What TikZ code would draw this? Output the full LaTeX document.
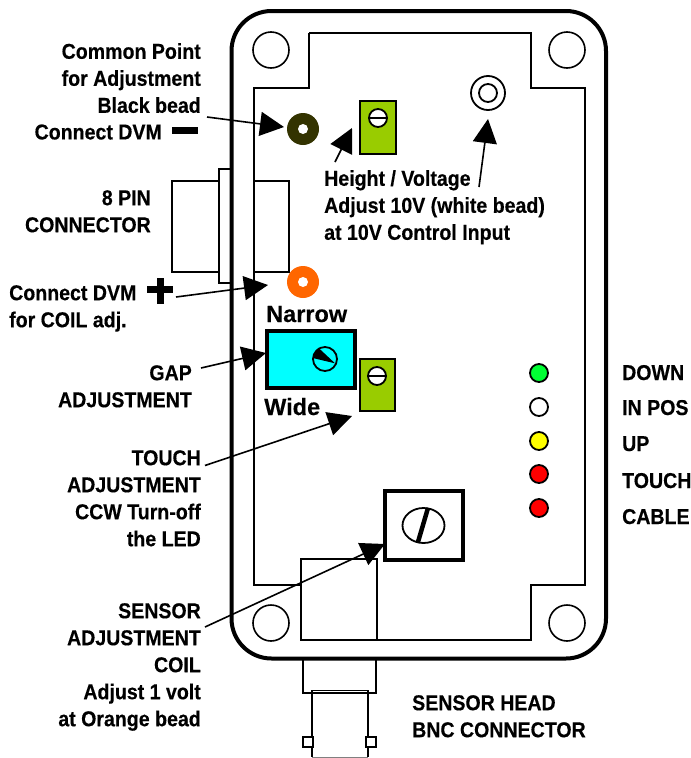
\documentclass[tikz,border=0pt]{standalone}
\usepackage{fontspec}
\setmainfont[FakeStretch=0.91,BoldFeatures={FakeBold=0.4}]{Liberation Sans}
\newfontfamily\plainfont[BoldFeatures={FakeBold=0.3}]{Liberation Sans}
\usetikzlibrary{arrows.meta}
\definecolor{trimgreen}{HTML}{99CC00}
\definecolor{beadblack}{HTML}{333300}
\definecolor{beadorange}{HTML}{FF6600}
\definecolor{ledgreen}{HTML}{00FF33}
\definecolor{gapcyan}{HTML}{00FFFF}
\definecolor{ledyellow}{HTML}{FFFF00}
\definecolor{ledred}{HTML}{FF0000}
\tikzset{
  x=1pt,y=-1pt,
  lab/.style={font=\bfseries\fontsize{21.5}{27}\selectfont,inner sep=0pt,align=#1},
  lab/.default=right,
  biglab/.style={font=\plainfont\bfseries\fontsize{23.5}{27}\selectfont,inner sep=0pt},
  thin line/.style={draw=black,line width=1.8pt},
  thick line/.style={draw=black,line width=4pt},
  big arrow/.style={draw=black,line width=1.6pt,-{Triangle[length=24pt,width=24pt,fill=black]}},
  screw/.style={circle,draw=black,line width=1.8pt,fill=white,minimum size=18pt,inner sep=0pt},
  led/.style={circle,draw=black,line width=1.8pt,minimum size=18pt,inner sep=0pt,fill=#1},
  hole/.style={circle,draw=black,line width=1.6pt,minimum size=36pt,inner sep=0pt,fill=white},
  bead/.style={circle,fill=#1,minimum size=32pt,inner sep=0pt},
  eye/.style={circle,fill=white,minimum size=10pt,inner sep=0pt},
}
\begin{document}
\begin{tikzpicture}
\useasboundingbox (0,0) rectangle (691,758);
% connectors behind the box
\draw[thin line,fill=white] (172,181) rectangle (219,272);
\draw[thin line,fill=white] (219,169) rectangle (232,283);
\draw[thin line] (303,658) rectangle (376,693);
\draw[thin line] (312,757) -- (312,690.5) -- (368,690.5) -- (368,757);
\draw[draw=gray,line width=1pt] (312,757) -- (368,757);
\draw[thin line,fill=white] (303,737) rectangle (313,747);
\draw[thin line,fill=white] (366,737) rectangle (376,747);
% case
\draw[thick line,rounded corners=40pt] (231.5,11) rectangle (606,658.5);
\draw[thin line] (309,33) -- (531,33) -- (531,88) -- (585,88) -- (585,585) -- (531,585) -- (531,640) -- (309,640)
  (301,585) -- (254,585) -- (254,88) -- (309,88) -- (309,33);
\draw[thin line] (254,181) -- (289,181) -- (289,272) -- (254,272);
\draw[thin line] (301,559) rectangle (377,640);
\foreach \n/\p in {a/{271,50},b/{567,50},c/{271,623},d/{567,623}}
  \node[hole] (hole\n) at (\p) {};
% beads
\node[bead=beadblack] (blackbead) at (303,129) {};
\node[eye] at (blackbead) {};
\node[bead=beadorange] (orangebead) at (303,282) {};
\node[eye] at (orangebead) {};
\node[circle,draw=black,line width=1.8pt,minimum size=34pt,inner sep=0pt] (whitebead) at (488,93) {};
\node[circle,draw=black,line width=1.8pt,minimum size=18pt,inner sep=0pt] at (whitebead) {};
% trimmers
\draw[thin line,fill=trimgreen] (360,101) rectangle (396,154);
\node[screw] (trimA) at (378,118) {};
\draw[thin line] (trimA.west) -- (trimA.east);
\draw[thin line,fill=trimgreen] (360,359) rectangle (395,411);
\node[screw] (trimB) at (377,376) {};
\draw[thin line] (trimB.west) -- (trimB.east);
% gap
\draw[thick line,fill=gapcyan] (267,331) rectangle (355,388);
\node[circle,draw=black,line width=1.8pt,minimum size=24pt,inner sep=0pt] (dial) at (325,359) {};
\fill (312.7,358) -- (318.3,347.7) -- (335,363.3) -- cycle;
% sensor
\draw[line width=4.5pt] (385,491) rectangle (463,560);
\draw[thin line] (423.5,525.5) ellipse [x radius=21,y radius=17.5];
\draw[line width=4.5pt] (418,542) -- (428,508);
% LEDs
\node[led=ledgreen] (l1) at (539,373) {};
\node[led=white] (l2) at (539,407) {};
\node[led=ledyellow] (l3) at (539,441) {};
\node[led=ledred] (l4) at (539,474) {};
\node[led=ledred] (l5) at (539,508) {};
% minus / plus
\fill (172,127) rectangle (198,134);
\fill (147,286) rectangle (173,293);
\fill (157,278) rectangle (164,304);
% arrows
\draw[big arrow] (207,117) -- (284,127);
\draw[big arrow] (335,162) -- (352,128);
\draw[big arrow] (479,187) -- (488,119);
\draw[big arrow] (176,297) -- (268,285);
\draw[big arrow] (201,368) -- (266,353);
\draw[big arrow] (205,465.5) -- (352,416);
\draw[big arrow] (205,627) -- (385,544);
% labels
\node[lab=right,anchor=north east] (t1) at (201,43) {Common Point\\for Adjustment\\Black bead};
\node[lab=right,anchor=east] (t1b) at (162,132) {Connect DVM};
\node[lab=left,anchor=north west] (t2) at (324,170) {Height / Voltage\\Adjust 10V (white bead)\\at 10V Control Input};
\node[lab=right,anchor=north east] (t3) at (151,190) {8 PIN\\CONNECTOR};
\node[lab=left,anchor=north west] (t4) at (9,285) {Connect DVM\\for COIL adj.};
\node[lab=right,anchor=north east] (t5) at (192,365) {GAP\\ADJUSTMENT};
\node[lab=right,anchor=north east] (t6) at (201,450) {TOUCH\\ADJUSTMENT\\CCW Turn-off\\the LED};
\node[lab=right,anchor=north east] (t7) at (201,603) {SENSOR\\ADJUSTMENT\\COIL\\Adjust 1 volt\\at Orange bead};
\node[lab=left,anchor=north west] (t8) at (412,695) {SENSOR HEAD\\BNC CONNECTOR};
\node[biglab,anchor=base west] at (266,322) {Narrow};
\node[biglab,anchor=base west] at (264,415) {Wide};
\node[lab=left,anchor=base west] at (622,380) {DOWN};
\node[lab=left,anchor=base west] at (622,415) {IN POS};
\node[lab=left,anchor=base west] at (622,451) {UP};
\node[lab=left,anchor=base west] at (622,488) {TOUCH};
\node[lab=left,anchor=base west] at (622,524) {CABLE};
\end{tikzpicture}
\end{document}
